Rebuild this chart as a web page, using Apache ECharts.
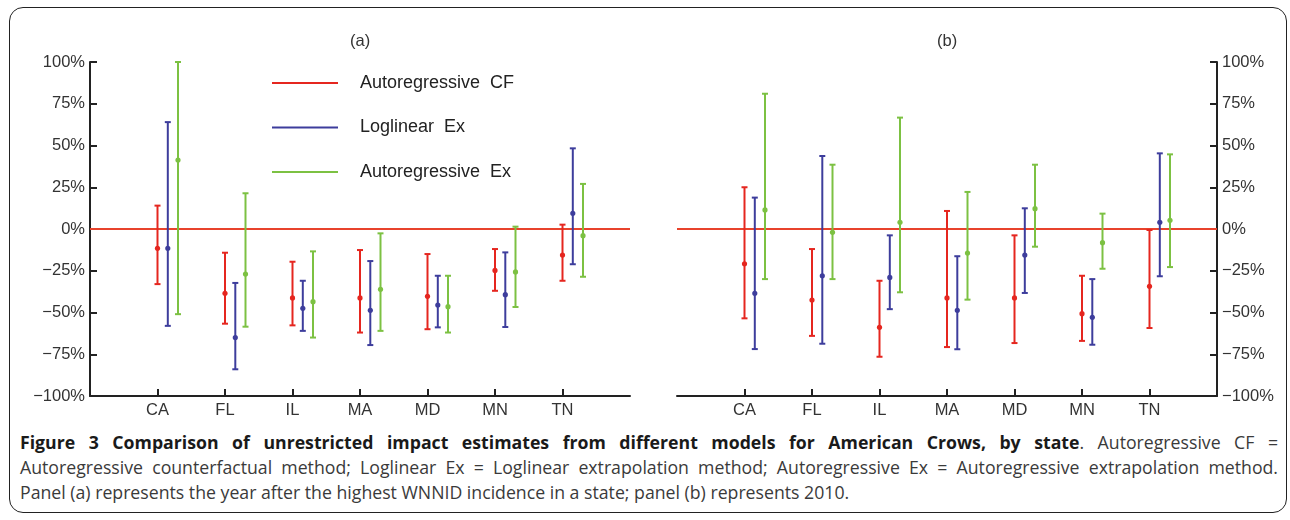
<!DOCTYPE html>
<html lang="en">
<head>
    <meta charset="UTF-8">
    <title>Figure 3</title>
    <script src="https://cdn.jsdelivr.net/npm/echarts@6/dist/echarts.min.js"></script>
    <style>
        body {
            margin: 0;
            padding: 0;
            background: #fff;
            width: 1290px;
            height: 520px;
            overflow: hidden;
            position: relative;
        }
        .frame {
            position: absolute;
            left: 9px;
            top: 7px;
            width: 1278px;
            height: 506px;
            border: 1.5px solid #222;
            border-radius: 14px;
            box-sizing: border-box;
        }
        #chart {
            position: absolute;
            left: 0;
            top: 0;
            width: 1290px;
            height: 430px;
        }
        .caption {
            position: absolute;
            left: 20px;
            top: 430px;
            width: 1258px;
            font-family: "Open Sans", sans-serif;
            font-size: 17.7px;
            line-height: 25px;
            color: #3a3a3a;
            white-space: nowrap;
        }
        .caption div.just {
            text-align: justify;
            text-align-last: justify;
        }
        .caption b {
            color: #1a1a1a;
        }
    </style>
</head>
<body>
<div class="frame"></div>
<div id="chart"></div>
<div class="caption">
    <div class="just"><b>Figure 3 Comparison of unrestricted impact estimates from different models for American Crows, by state</b>. Autoregressive CF =</div>
    <div class="just">Autoregressive counterfactual method; Loglinear Ex = Loglinear extrapolation method; Autoregressive Ex = Autoregressive extrapolation method.</div>
    <div>Panel (a) represents the year after the highest WNNID incidence in a state; panel (b) represents 2010.</div>
</div>

<script>
    // 州
    const states = ['CA', 'FL', 'IL', 'MA', 'MD', 'MN', 'TN'];
    const seriesNames = ['Autoregressive CF', 'Loglinear Ex', 'Autoregressive Ex'];
    const seriesColors = ['#e5261f', '#3d3d9c', '#7cc142'];
    const yTicks = [-100, -75, -50, -25, 0, 25, 50, 75, 100];

    // 每个值: [下限, 估计值, 上限] (%)
    // panel (a)
    const aAutoCF = [[-33, -11.6, 14], [-56.7, -38.5, -14.2], [-57.7, -41.3, -19.6], [-62, -41.3, -12.6], [-60, -40.3, -15], [-37, -24.8, -12], [-31, -15.6, 2.6]];
    const aLogEx = [[-58, -11.6, 64], [-84, -65, -32.3], [-61, -47.5, -31], [-69.5, -48.7, -19.2], [-58.9, -45.5, -28], [-58.7, -39.3, -14], [-21.1, 9.4, 48.3]];
    const aAutoEx = [[-51, 41.3, 100], [-58.5, -27, 21.4], [-65, -43.5, -13.4], [-61, -36.1, -2.6], [-62, -46.5, -28], [-46.7, -25.7, 1.4], [-28.6, -4, 27]];
    // panel (b)
    const bAutoCF = [[-53.5, -20.8, 25], [-64, -42.5, -12], [-76.5, -58.9, -31], [-70.7, -41.3, 10.8], [-68.3, -41.3, -3.8], [-67, -50.7, -28], [-59.3, -34.3, -0.6]];
    const bLogEx = [[-71.9, -38.5, 18.8], [-68.7, -28, 43.7], [-48, -29, -3.8], [-72, -48.7, -16.3], [-38.3, -15.6, 12.4], [-69.3, -52.9, -30], [-28.3, 4, 45.3]];
    const bAutoEx = [[-30, 11.4, 81], [-30, -2, 38.5], [-37.9, 4, 66.7], [-42.3, -14.4, 22.2], [-10.6, 12.2, 38.5], [-23.8, -8.2, 9.2], [-22.8, 5.2, 44.7]];

    const offsets = [0, 10.3, 20.5];

    // 坐标轴类目: 两端留空
    const xCats = [''].concat(states, ['']);

    function toItems(arr) {
        return arr.map((d, i) => [i + 1, d[0], d[1], d[2]]);
    }

    function errorBar(offset) {
        return function (params, api) {
            const x = api.value(0);
            const lo = api.coord([x, api.value(1)]);
            const mid = api.coord([x, api.value(2)]);
            const hi = api.coord([x, api.value(3)]);
            const cx = lo[0] + offset;
            const color = api.visual('color');
            const style = { stroke: color, lineWidth: 2 };
            return {
                type: 'group',
                children: [
                    { type: 'line', shape: { x1: cx, y1: hi[1], x2: cx, y2: lo[1] }, style: style },
                    { type: 'line', shape: { x1: cx - 3, y1: hi[1], x2: cx + 3, y2: hi[1] }, style: style },
                    { type: 'line', shape: { x1: cx - 3, y1: lo[1], x2: cx + 3, y2: lo[1] }, style: style },
                    { type: 'circle', shape: { cx: cx, cy: mid[1], r: 2.6 }, style: { fill: color } }
                ]
            };
        };
    }

    function makeSeries(arr, k, gridIdx) {
        const s = {
            type: 'custom',
            name: seriesNames[k],
            xAxisIndex: gridIdx,
            yAxisIndex: gridIdx,
            itemStyle: { color: seriesColors[k] },
            renderItem: errorBar(offsets[k]),
            encode: { x: 0, y: [1, 2, 3] },
            data: toItems(arr),
            z: 3
        };
        if (k === 0) {
            s.markLine = {
                silent: true,
                symbol: 'none',
                label: { show: false },
                lineStyle: { color: '#e8432c', width: 2, type: 'solid' },
                data: [{ yAxis: 0 }],
                z: 2
            };
        }
        return s;
    }

    const axisLine = { show: true, onZero: false, lineStyle: { color: '#222', width: 2 } };
    const labelFont = { fontFamily: 'Liberation Sans, Arial, sans-serif', fontSize: 16.5, color: '#333' };

    function xAxisFor(gridIdx) {
        return {
            type: 'category',
            gridIndex: gridIdx,
            data: xCats,
            boundaryGap: false,
            axisLine: axisLine,
            axisTick: { inside: true, length: 7, lineStyle: { color: '#222', width: 2 }, interval: (i, v) => v !== '' },
            axisLabel: Object.assign({ interval: 0, margin: 6 }, labelFont),
            splitLine: { show: false }
        };
    }

    function yAxisFor(gridIdx, pos) {
        return {
            type: 'value',
            gridIndex: gridIdx,
            position: pos,
            min: yTicks[0],
            max: yTicks[yTicks.length - 1],
            interval: 25,
            axisLine: axisLine,
            axisTick: { show: true, inside: true, length: 7, lineStyle: { color: '#222', width: 2 } },
            axisLabel: Object.assign({
                margin: 5,
                formatter: v => (v < 0 ? '\u2212' + Math.abs(v) : v) + '%'
            }, labelFont),
            splitLine: { show: false }
        };
    }

    const titleFont = { fontFamily: 'Liberation Sans, Arial', fontSize: 16.5, fontWeight: 'normal', color: '#333' };

    const chart = echarts.init(document.getElementById('chart'));
    chart.setOption({
        animation: false,
        title: [
            { text: '(a)', left: 345, top: 28, textStyle: titleFont },
            { text: '(b)', left: 932, top: 28, textStyle: titleFont }
        ],
        legend: {
            orient: 'vertical',
            left: 267,
            top: 69,
            itemWidth: 66,
            itemHeight: 2,
            itemGap: 26.5,
            icon: 'rect',
            data: seriesNames,
            formatter: name => name.replace(' ', '  '),
            textStyle: { fontFamily: 'Liberation Sans, Arial', fontSize: 18, color: '#222', padding: [0, 0, 0, 17] }
        },
        grid: [
            { left: 90, top: 62, width: 540, height: 334 },
            { left: 677, top: 62, width: 540, height: 334 }
        ],
        xAxis: [xAxisFor(0), xAxisFor(1)],
        yAxis: [yAxisFor(0, 'left'), yAxisFor(1, 'right')],
        series: [
            makeSeries(aAutoCF, 0, 0),
            makeSeries(aLogEx, 1, 0),
            makeSeries(aAutoEx, 2, 0),
            makeSeries(bAutoCF, 0, 1),
            makeSeries(bLogEx, 1, 1),
            makeSeries(bAutoEx, 2, 1)
        ]
    });
</script>
</body>
</html>
